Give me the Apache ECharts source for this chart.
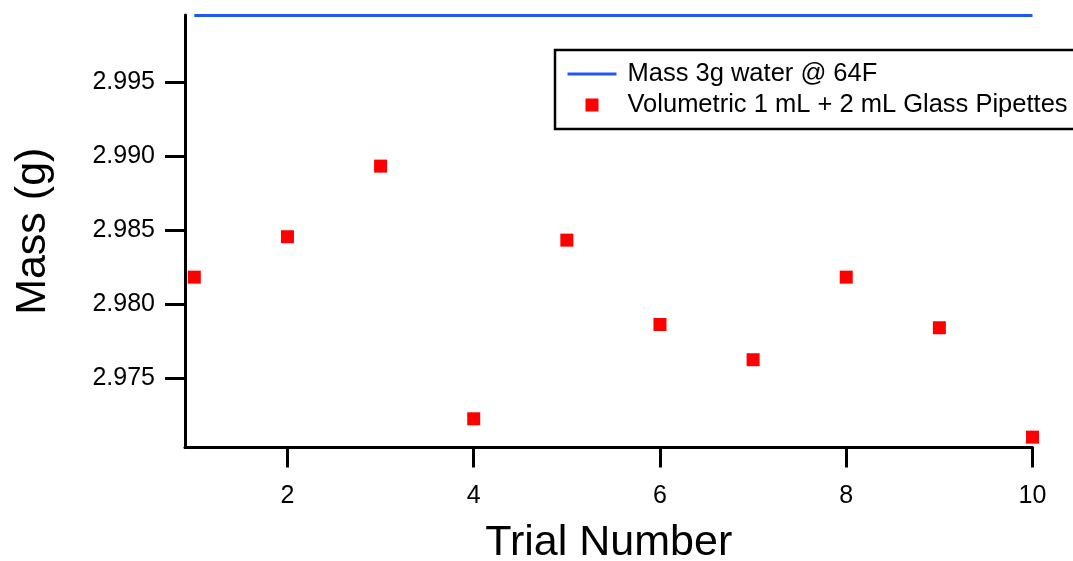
<!DOCTYPE html>
<html>
<head>
<meta charset="utf-8">
<script src="https://cdn.jsdelivr.net/npm/echarts@6/dist/echarts.min.js"></script>
<style>
html,body{margin:0;padding:0;background:#fff;}
#c{width:1073px;height:561px;}
</style>
</head>
<body>
<div id="c"></div>
<script>
// Data
const trials = [1, 2, 3, 4, 5, 6, 7, 8, 9, 10];
const pipetteMass = [2.98182, 2.98455, 2.98932, 2.97225, 2.98432, 2.97862, 2.97624, 2.98182, 2.97840, 2.97101];
const waterMassX = [1, 10];
const waterMassY = [2.9995, 2.9995];
const xTickValues = [2, 4, 6, 8, 10];
const yTickValues = [2.975, 2.980, 2.985, 2.990, 2.995];
const seriesNames = ['Mass 3g water @ 64F', 'Volumetric 1 mL + 2 mL Glass Pipettes'];

const FONT = '"Liberation Sans", Arial, sans-serif';
const chart = echarts.init(document.getElementById('c'), null, {renderer: 'canvas'});

const option = {
  backgroundColor: '#ffffff',
  animation: false,
  grid: {left: 185, top: 15, right: 40.5, bottom: 113.5, containLabel: false, outerBoundsMode: 'none'},
  legend: {
    orient: 'vertical',
    left: 555,
    top: 50,
    borderColor: '#000',
    borderWidth: 2.5,
    padding: [11, 20, 11, 11],
    itemWidth: 49,
    itemHeight: 13,
    itemGap: 5,
    symbolKeepAspect: true,
    textStyle: {fontSize: 25.5, lineHeight: 25, fontFamily: FONT, color: '#000', padding: [0, 0, 0, 6]},
    data: [
      {name: seriesNames[0], itemStyle: {opacity: 0}, lineStyle: {color: '#2157f3', width: 3}},
      {name: seriesNames[1], icon: 'path://M0,0h1v1h-1z'}
    ]
  },
  xAxis: {
    type: 'value',
    min: 0.9,
    max: 10,
    name: 'Trial Number',
    nameLocation: 'middle',
    nameGap: 74,
    nameTextStyle: {fontSize: 43, fontFamily: FONT, color: '#000'},
    axisLine: {show: true, lineStyle: {color: '#000', width: 3}},
    axisTick: {show: true, inside: false, length: 20, lineStyle: {color: '#000', width: 3}, customValues: xTickValues},
    axisLabel: {customValues: xTickValues, margin: 36, fontSize: 25, fontFamily: FONT, color: '#000'},
    splitLine: {show: false}
  },
  yAxis: {
    type: 'value',
    min: 2.97031,
    max: 2.99953,
    name: 'Mass (g)',
    nameLocation: 'middle',
    nameGap: 130,
    nameTextStyle: {fontSize: 43, fontFamily: FONT, color: '#000'},
    axisLine: {show: true, lineStyle: {color: '#000', width: 3}},
    axisTick: {show: true, inside: false, length: 20, lineStyle: {color: '#000', width: 3}, customValues: yTickValues},
    axisLabel: {customValues: yTickValues, margin: 30, fontSize: 25, fontFamily: FONT, color: '#000',
      formatter: v => v.toFixed(3)},
    splitLine: {show: false}
  },
  series: [
    {
      name: seriesNames[0],
      type: 'line',
      data: waterMassX.map((x, i) => [x, waterMassY[i]]),
      symbol: 'none',
      lineStyle: {color: '#2157f3', width: 3},
      itemStyle: {color: '#2157f3'},
      clip: false
    },
    {
      name: seriesNames[1],
      type: 'scatter',
      data: trials.map((x, i) => [x, pipetteMass[i]]),
      symbol: 'rect',
      symbolSize: 13,
      itemStyle: {color: '#ff0000', opacity: 1},
      clip: false
    }
  ]
};
chart.setOption(option);
</script>
</body>
</html>
